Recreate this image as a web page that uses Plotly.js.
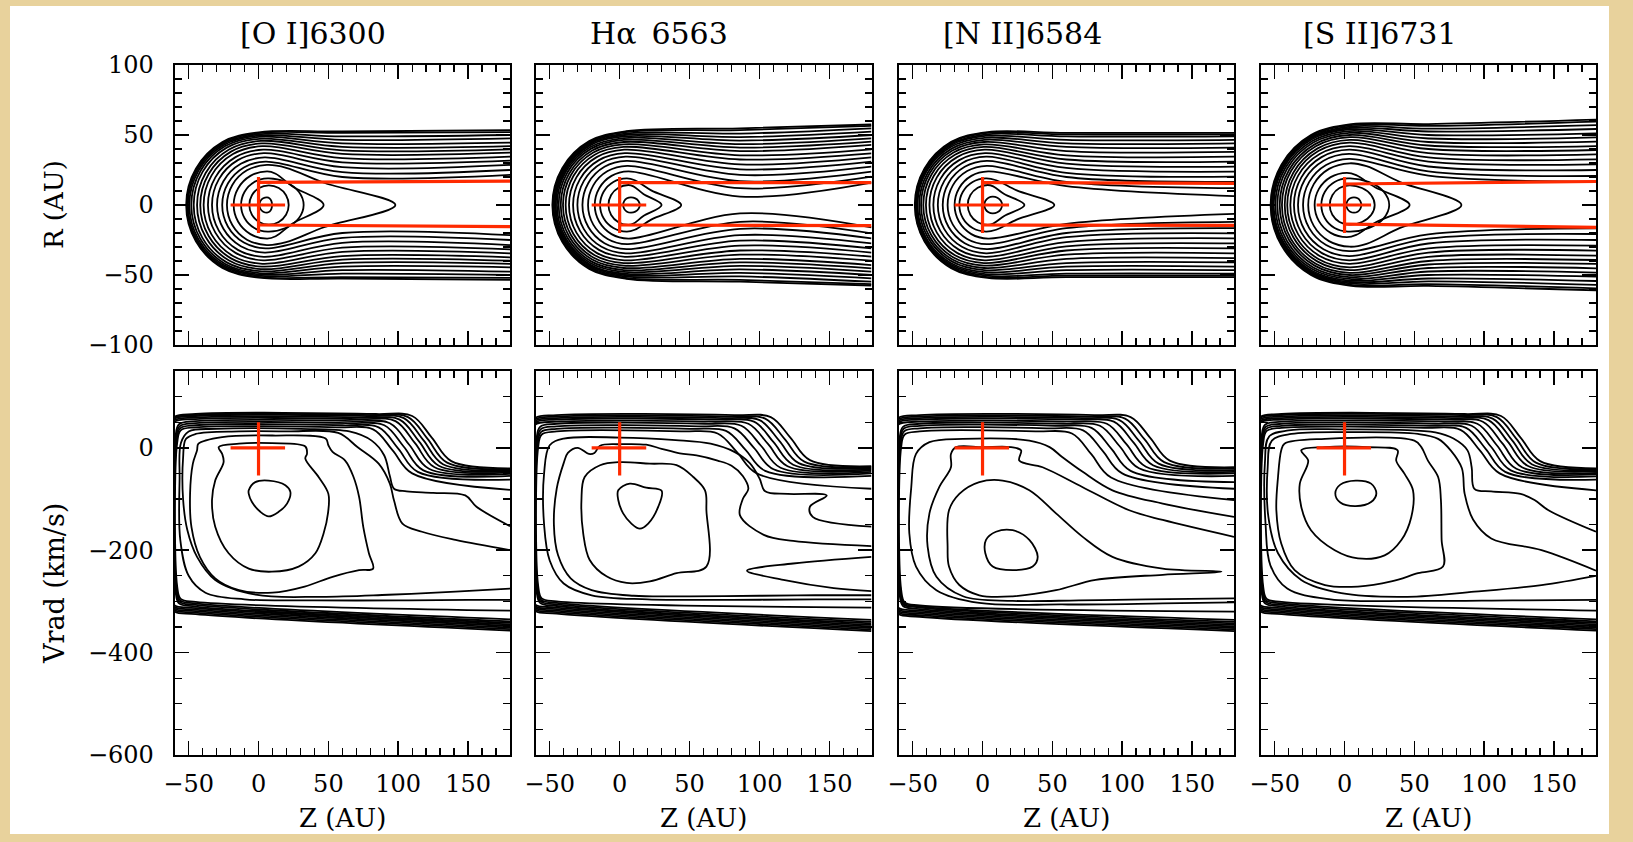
<!DOCTYPE html>
<html><head><meta charset="utf-8">
<script src="https://cdn.plot.ly/plotly-3.0.1.min.js"></script>
<style>html,body{margin:0;padding:0;background:#E8D29C;} #chart{width:1633px;height:842px;}</style>
</head><body><div id="chart"></div>
<script>
// ---------- labels ----------
const lineNames = ['[O I]6300', 'H\u03b1\u20026563', '[N II]6584', '[S II]6731'];
const zTickVals = [-50, 0, 50, 100, 150];

// ---------- TOP ROW: R vs Z contour families (AU) ----------
const oiClosedLeft = [0.6, -6.6, -12.5, -17.8, -22.6];
const oiClosedA    = [5.5, 14, 19, 24, 28.6];
const oiClosedTip  = [9.7, 21.6, 32.3, 46.6, 98];
const oiOpenLeft  = [-26, -29.7, -33.3, -36.2, -39.3, -41.7, -44, -46.4, -48.1, -49.5, -50.5, -51.2, -51.8];
const oiOpenA     = [31, 34, 37, 39.5, 42, 44, 45.8, 47.3, 48.6, 49.6, 50.5, 51.3, 51.9];
const oiOpenMid   = [20, 23.5, 27, 30.5, 33.5, 36.5, 39, 41.5, 44, 46.5, 49, 51.5, 52.5];
const oiOpenRight = [21.5, 25, 28.6, 31.7, 34.5, 37.4, 39.8, 42, 44.5, 47.6, 50, 52, 53.5];

const haClosedLeft = [2.5, -8, -14];
const haClosedA    = [5.5, 14.3, 19];
const haClosedTip  = [14.4, 30, 44];
const haOpenLeft  = [-17.8, -22.6, -26.6, -30.2, -33.3, -36.2, -38.6, -40.5, -42.1, -43.6, -44.8, -45.7, -46.4, -47.2, -47.6, -48.1];
const haOpenA     = [24, 28, 31.5, 34.5, 37, 39.5, 41.5, 43.3, 45, 46.5, 47.8, 49, 50, 51, 52, 52.7];
const haOpenMid   = [6, 12, 17, 21.5, 25.5, 29, 32.5, 35.5, 38.5, 41, 43.5, 46, 48.5, 51, 53.5, 54.8];
const haOpenRight = [16, 20.2, 23.8, 27.4, 31, 34, 36.9, 39.8, 42.9, 45.2, 47.6, 50, 52.4, 54.8, 56.5, 57.5];

const niiClosedLeft = [1.3, -10.6, -16.6];
const niiClosedA    = [6, 14.3, 19];
const niiClosedTip  = [14, 30, 51.4];
const niiOpenLeft  = [-20, -25, -28.5, -32, -35.2, -38, -40.5, -42.4, -44, -45.3, -46.5, -47.2, -47.6, -48.1, -48.5];
const niiOpenA     = [24, 28, 31.5, 34.5, 37, 39.5, 41.5, 43.3, 45, 46.5, 48, 49.3, 50.5, 51.5, 52.1];
const niiOpenMid   = [13.5, 16.5, 20, 23, 26.5, 29.5, 32.5, 35.5, 38.5, 41.5, 44, 46.5, 49, 50.5, 51.5];
const niiOpenRight = [6.4, 12, 16.5, 20.2, 23.8, 27.4, 31, 34.5, 38, 41, 44, 46.5, 49, 50.5, 51.5];

const siiClosedLeft = [1.3, -10.6, -16.6, -21.4, -26];
const siiClosedA    = [5.5, 14, 19, 23, 29.8];
const siiClosedTip  = [12, 21.6, 32, 46.6, 83.7];
const siiOpenLeft  = [-29.7, -33.3, -36.2, -38.8, -41, -42.8, -44.8, -46.4, -48.1, -49.5, -50.7, -51.4, -51.9, -52.4, -52.9];
const siiOpenA     = [33, 36.5, 39.5, 42, 44.5, 46.5, 48.5, 50, 51.5, 52.8, 54, 55, 56, 57, 57.7];
const siiOpenMid   = [21, 24, 27.5, 31, 34, 37, 40, 42.5, 45, 47.5, 50, 52.5, 54.5, 56.5, 57.8];
const siiOpenRight = [16.7, 20.7, 25, 29, 32.6, 36.2, 39.3, 42.1, 45.2, 48.3, 51.2, 54.3, 57, 59.5, 61];

const topMidZ = [60, 86, 60, 60];

// red jet-boundary lines (Z, R)
const oiJetUpper = [[0, 16.2], [180, 17]],   oiJetLower = [[0, -14.3], [180, -15.5]];
const haJetUpper = [[0, 16], [180, 16]],     haJetLower = [[0, -14.3], [180, -14.8]];
const niiJetUpper = [[0, 16], [180, 15.5]],  niiJetLower = [[0, -14.3], [180, -14.6]];
const siiJetUpper = [[0, 15], [180, 16.8]],  siiJetLower = [[0, -13.6], [180, -16]];
const crossTopZ = [-20, 19], crossTopR = [-20, 20];
const crossBotZ = [-20, 19], crossBotV = [-54, 50];

// ---------- BOTTOM ROW: Vrad vs Z ----------
const bandLeftZ = [-63, -63, -63, -63, -63, -59.4, -59, -58.6, -58.2];
const oiBandTop   = [66, 64, 62, 59, 56, 52, 48, 44, 40];
const oiBandDropZ = [124, 121, 118, 115, 112, 108, 104, 100, 96];
const oiBandEnd   = [-26, -29, -32, -35, -38, -41, -44, -47, -50];
const oiBandRight = [-40, -42, -44, -46, -48, -51, -55, -62, -82];
const oiBandBotL  = [-325, -322, -319, -316, -313, -310, -307, -304, -301];
const oiBandBotR  = [-357, -354, -351, -348, -345, -342, -339, -335, -318];

const haBandTop   = [64, 61, 58, 55, 51, 47, 42, 37, 32];
const haBandDropZ = [122, 118, 114, 110, 106, 101, 96, 90, 84];
const haBandEnd   = [-24, -27, -30, -33, -36, -39, -42, -45, -50];
const haBandRight = [-36, -38, -40, -42, -44, -47, -50, -55, -80];
const haBandBotL  = [-324, -321, -318, -315, -312, -309, -306, -303, -300];
const haBandBotR  = [-358, -355, -352, -349, -346, -343, -340, -336, -312];

const niiBandTop   = [64, 61, 58, 55, 51, 47, 43, 38, 32];
const niiBandDropZ = [120, 116, 112, 108, 103, 98, 92, 86, 78];
const niiBandEnd   = [-25, -28, -31, -34, -37, -40, -45, -50, -58];
const niiBandRight = [-38, -41, -44, -47, -50, -55, -67, -80, -102];
const niiBandBotL  = [-330, -327, -324, -321, -318, -315, -312, -310, -308];
const niiBandBotR  = [-358, -355, -352, -349, -346, -343, -340, -336, -320];

const siiBandTop   = [66, 64, 61, 58, 55, 51, 47, 43, 39];
const siiBandDropZ = [126, 123, 120, 117, 113, 109, 105, 101, 97];
const siiBandEnd   = [-26, -29, -32, -35, -38, -41, -44, -47, -50];
const siiBandRight = [-40, -42, -44, -46, -49, -52, -56, -62, -83];
const siiBandBotL  = [-325, -322, -319, -316, -313, -310, -307, -304, -301];
const siiBandBotR  = [-357, -354, -351, -348, -345, -342, -339, -335, -318];

// inner contours (Z, Vrad)
const oiBlob = [[-7,-83],[-2.3,-67],[7.3,-64],[19.2,-73],[22.8,-86],[20.4,-109],[14.4,-125],[7.3,-134],[1.3,-125],[-4.7,-106],[-7,-90],[-7,-83]];
const oiLoopB = [[-28.5,1.3],[-14,8],[9.6,9],[33.5,2.6],[34.7,-11.7],[33.5,-21],[43,-57],[50,-90],[49.7,-128],[46.6,-167],[40.7,-206],[28.7,-232],[9.6,-242],[-7,-236],[-21.4,-206],[-31,-154],[-33.3,-102],[-31,-64],[-25,-28],[-26,-12],[-28.5,1.3]];
const oiLoopC = [[-44,-5],[-43,8],[-26,21],[10,24],[48,18],[50,5],[53,-8],[62,-25],[68,-57],[72,-96],[75,-155],[79,-206],[82,-236],[72,-239],[53,-252],[33,-271],[10,-283],[-14,-278],[-31,-255],[-42,-213],[-48,-155],[-49,-90],[-47,-31],[-44,-5]];
const oiOpenD = [[180,-200],[141,-180],[117,-164],[103,-148],[97,-103],[94,-70],[86,-31],[71,1],[57,29],[20,32],[-14,32],[-45,27],[-52,17],[-54,-20],[-54,-100],[-51,-160],[-44,-213],[-31,-258],[-2,-287],[45,-291],[93,-287],[141,-281],[180,-275]];
const oiOpenE = [[180,-153],[156,-115],[148,-93],[125,-88],[106,-85],[97,-80],[94,-55],[90,-15],[81,14],[65,32],[30,37],[-30,37],[-50,32],[-55.5,10],[-56.5,-60],[-56,-180],[-50,-250],[-38,-283],[-10,-296],[40,-298],[100,-298],[150,-297],[180,-297]];

const haBlob = [[-1,-83],[7.3,-70],[19,-78],[30,-84],[27.6,-115],[20.4,-148],[14.4,-158],[8.4,-148],[2.5,-128],[-1,-102],[-1,-83]];
const haLoopB = [[-25,-57],[-14,-34],[0,-28],[21.6,-31],[40.7,-34],[52.6,-57],[61,-83],[62,-122],[62,-232],[40.7,-245],[21.6,-261],[5,-264],[-9.4,-251],[-21.4,-219],[-26,-168],[-27.3,-102],[-25,-57]];
const haSliver = [[180,-213],[124,-226],[91,-240],[117,-258],[153,-274],[180,-280]];
const haOpenC = [[180,-192],[124,-182],[103,-170],[86,-132],[88,-100],[92,-80],[88,-55],[80,-35],[70,-25],[55,-15],[43,-11],[30,-2],[19,6],[0,7],[-14,4],[-18,-10],[-22,-12],[-30,0],[-37,-10],[-40,-30],[-45,-80],[-47,-150],[-44,-210],[-35,-255],[-20,-278],[10,-289],[50,-290],[100,-289],[140,-288],[180,-288]];
const haOpenD = [[180,-154],[138,-135],[136,-115],[148,-93],[120,-90],[104,-85],[100,-60],[93,-30],[82,-8],[65,8],[40,15],[0,20],[-40,18],[-50,5],[-54,-50],[-54,-150],[-50,-220],[-40,-265],[-20,-288],[20,-296],[80,-297],[140,-296],[180,-296]];

const niiBlob = [[2.5,-180],[9.6,-164],[21.6,-161],[33.5,-180],[39.5,-213],[35.9,-232],[21.6,-239],[7.3,-232],[2,-206],[2.5,-180]];
const niiLoopB = [[-25,-193],[-24,-122],[-16.6,-90],[-2.3,-67],[14.4,-64],[33.5,-83],[52.6,-128],[71.7,-174],[93,-213],[129,-236],[171,-242],[129,-248],[81,-258],[52.6,-278],[21.6,-290],[-2.3,-288],[-16.6,-268],[-24,-232],[-25,-193]];
const niiOpenC = [[180,-174],[129,-141],[105,-122],[71.7,-77],[43,-38],[26.3,-25],[27.6,-5],[20.4,1.3],[0,1.3],[-19,1.3],[-22.6,-12],[-22.6,-38],[-31,-77],[-38,-128],[-39.3,-193],[-33,-252],[-14,-290],[21.6,-299],[69,-298],[117,-296],[180,-294]];
const niiOpenD = [[180,-135],[129,-109],[93,-83],[71.7,-47],[57,-18],[48,1.3],[33.5,14],[-14,17.5],[-38,11],[-47.6,-12],[-51,-77],[-52.4,-167],[-47.6,-232],[-33,-278],[-2.3,-303],[57,-306],[129,-304],[180,-302]];

const siiBlob = [[-6.6,-89],[-3,-72],[8,-64],[19,-70],[22.8,-89],[19,-106],[8,-114],[-3,-107],[-6.6,-89]];
const siiLoopB = [[-31,-5],[-14,1.3],[16.8,1.3],[38,-5],[37,-25],[43,-51],[49,-83],[47.8,-135],[40.7,-180],[28.7,-210],[9.6,-216],[-7,-200],[-24,-161],[-31,-115],[-32,-70],[-26,-25],[-31,-5]];
const siiLoopC = [[-45.3,-5],[-43,8],[-14,17.5],[50,14],[55,1.3],[59.7,-25],[67,-57],[69,-102],[69.5,-180],[70.5,-232],[52.6,-245],[33.5,-261],[9.6,-271],[-14,-268],[-35.7,-239],[-45.3,-187],[-48.8,-122],[-47.6,-57],[-45.3,-5]];
const siiOpenD = [[180,-240],[141,-200],[105,-177],[92,-140],[86,-90],[84,-40],[76,-5],[67,17.5],[52.6,27],[9.6,30.5],[-38,27],[-52,14],[-55,-38],[-54.5,-135],[-47.6,-206],[-31,-258],[-2.3,-284],[45,-291],[93,-281],[141,-268],[180,-250]];
const siiOpenE = [[180,-164],[146,-122],[136,-102],[126,-90],[105,-85],[93,-80],[91,-38],[88,-5],[78,18],[65,30],[40,35],[0,36],[-40,34],[-54,22],[-57,-30],[-56.5,-150],[-53,-230],[-41,-275],[-10,-296],[50,-299],[120,-298],[180,-297]];

// ---------- assemble ----------
const topPanels = [
  {cl: oiClosedLeft, ca: oiClosedA, ct: oiClosedTip, ol: oiOpenLeft, oa: oiOpenA, om: oiOpenMid, ob: oiOpenRight, ju: oiJetUpper, jl: oiJetLower},
  {cl: haClosedLeft, ca: haClosedA, ct: haClosedTip, ol: haOpenLeft, oa: haOpenA, om: haOpenMid, ob: haOpenRight, ju: haJetUpper, jl: haJetLower},
  {cl: niiClosedLeft, ca: niiClosedA, ct: niiClosedTip, ol: niiOpenLeft, oa: niiOpenA, om: niiOpenMid, ob: niiOpenRight, ju: niiJetUpper, jl: niiJetLower},
  {cl: siiClosedLeft, ca: siiClosedA, ct: siiClosedTip, ol: siiOpenLeft, oa: siiOpenA, om: siiOpenMid, ob: siiOpenRight, ju: siiJetUpper, jl: siiJetLower}
];
const botPanels = [
  {bt: oiBandTop, bd: oiBandDropZ, be: oiBandEnd, br: oiBandRight, bl: oiBandBotL, bb: oiBandBotR, inner: [oiBlob, oiLoopB, oiLoopC, oiOpenD, oiOpenE]},
  {bt: haBandTop, bd: haBandDropZ, be: haBandEnd, br: haBandRight, bl: haBandBotL, bb: haBandBotR, inner: [haBlob, haLoopB, haSliver, haOpenC, haOpenD]},
  {bt: niiBandTop, bd: niiBandDropZ, be: niiBandEnd, br: niiBandRight, bl: niiBandBotL, bb: niiBandBotR, inner: [niiBlob, niiLoopB, niiOpenC, niiOpenD]},
  {bt: siiBandTop, bd: siiBandDropZ, be: siiBandEnd, br: siiBandRight, bl: siiBandBotL, bb: siiBandBotR, inner: [siiBlob, siiLoopB, siiLoopC, siiOpenD, siiOpenE]}
];

const traces = [];
const BLACK = '#000000', RED = '#ff2a00';
function axId(n) { return n === 1 ? '' : String(n); }
function addLine(xs, ys, n, color, width, spline) {
  traces.push({type: 'scatter', mode: 'lines', x: xs, y: ys,
    xaxis: 'x' + axId(n), yaxis: 'y' + axId(n),
    line: {color: color, width: width, shape: spline ? 'spline' : 'linear', smoothing: 1},
    hoverinfo: 'skip', showlegend: false, cliponaxis: true});
}
function addPts(pts, n, color, width, spline) {
  addLine(pts.map(p => p[0]), pts.map(p => p[1]), n, color, width, spline);
}
function arc(zc, a, xs, ys) {
  for (let d = 120; d <= 240; d += 30) {
    const t = d * Math.PI / 180;
    xs.push(zc + a * Math.cos(t)); ys.push(a * Math.sin(t));
  }
}
function openHairpin(left, a, m, b, zMid) {
  const zc = left + a;
  const xs = [180, zMid, zc], ys = [b, m, a];
  arc(zc, a, xs, ys);
  xs.push(zc, zMid, 180); ys.push(-a, -m, -b);
  return [xs, ys];
}
function closedLoop(left, a, tip) {
  const zc = left + a, L = tip - zc;
  let up;
  if (L <= 1.6 * a) {
    up = [[tip, 0], [zc + L * Math.cos(Math.PI / 6), a * 0.5], [zc + L * 0.5, a * Math.sin(Math.PI / 3)]];
  } else {
    up = [[tip, 0], [zc + 0.45 * L, 0.55 * a], [zc + 0.15 * L, 0.93 * a]];
  }
  const xs = up.map(p => p[0]), ys = up.map(p => p[1]);
  xs.push(zc); ys.push(a);
  arc(zc, a, xs, ys);
  xs.push(zc); ys.push(-a);
  for (let i = up.length - 1; i >= 0; i--) { xs.push(up[i][0]); ys.push(-up[i][1]); }
  return [xs, ys];
}
function bandLine(vT, dz, vE, vR, vBL, vBR, zl) {
  return [[180, vR], [dz + 14, vE], [dz, (vT + vE) / 2], [dz - 14, vT - 4], [dz - 40, vT],
    [-45, vT], [zl + 2.5, vT - 6], [zl, vT - 30], [zl, vBL + 30], [zl + 2.5, vBL + 6], [-45, vBL], [180, vBR]];
}

topPanels.forEach((p, i) => {
  const n = i + 1;
  p.cl.forEach((l, k) => { const r = closedLoop(l, p.ca[k], p.ct[k]); addLine(r[0], r[1], n, BLACK, 1.8, true); });
  p.ol.forEach((l, k) => { const r = openHairpin(l, p.oa[k], p.om[k], p.ob[k], topMidZ[i]); addLine(r[0], r[1], n, BLACK, 1.8, true); });
  addPts(p.ju, n, RED, 3.2, false);
  addPts(p.jl, n, RED, 3.2, false);
  addLine([0, 0], crossTopR, n, RED, 3.2, false);
  addLine(crossTopZ, [0, 0], n, RED, 3.2, false);
});
botPanels.forEach((p, i) => {
  const n = i + 5;
  p.bt.forEach((v, k) => addPts(bandLine(v, p.bd[k], p.be[k], p.br[k], p.bl[k], p.bb[k], bandLeftZ[k]), n, BLACK, 1.8, true));
  p.inner.forEach(c => addPts(c, n, BLACK, 1.8, true));
  addLine([0, 0], crossBotV, n, RED, 3.2, false);
  addLine(crossBotZ, [0, 0], n, RED, 3.2, false);
});

// ---------- layout ----------
const W = 1633, H = 842;
const colPx = [[174.7, 510], [535.7, 871.5], [898.7, 1234], [1260.7, 1596]];
const titlePx = [313, 659, 1022, 1380];
const rowPx = {top: [65, 345], bot: [371, 755]};
const FONT = 'DejaVu Serif';
const layout = {width: W, height: H, autosize: false, margin: {l: 0, r: 0, t: 0, b: 0},
  paper_bgcolor: '#E8D29C', plot_bgcolor: '#ffffff', showlegend: false,
  font: {family: FONT, color: '#000'}, annotations: [], shapes: [
    {type: 'rect', xref: 'paper', yref: 'paper', x0: 10 / W, x1: 1609 / W, y0: 1 - 834 / H, y1: 1 - 6 / H,
     fillcolor: '#ffffff', line: {width: 0}, layer: 'below'}]};

function commonAxis() {
  return {ticks: 'inside', ticklen: 14, tickwidth: 1.6, tickcolor: '#000', showline: true, linecolor: '#000',
    linewidth: 2, mirror: 'allticks', showgrid: false, zeroline: false, fixedrange: true,
    tickfont: {family: FONT, size: 24, color: '#000'}};
}
for (let i = 0; i < 4; i++) {
  for (let row = 0; row < 2; row++) {
    const n = i + 1 + row * 4;
    const rp = row === 0 ? rowPx.top : rowPx.bot;
    const xa = Object.assign(commonAxis(), {
      domain: [colPx[i][0] / W, colPx[i][1] / W], range: [-60, 180], anchor: 'y' + axId(n),
      tickmode: 'array', tickvals: zTickVals, ticktext: zTickVals.map(v => v < 0 ? '\u2212' + Math.abs(v) : String(v)),
      minor: {tickmode: 'linear', tick0: 0, dtick: 10, ticks: 'inside', ticklen: 7, tickwidth: 1.4, tickcolor: '#000'},
      showticklabels: row === 1, ticklabelstandoff: 6});
    const ya = Object.assign(commonAxis(), {
      domain: [1 - rp[1] / H, 1 - rp[0] / H], anchor: 'x' + axId(n),
      range: row === 0 ? [-100, 100] : [-600, 150], tickmode: 'linear', tick0: 0, dtick: row === 0 ? 50 : 200,
      minor: {tickmode: 'linear', tick0: 0, dtick: row === 0 ? 10 : 50, ticks: 'inside', ticklen: 7, tickwidth: 1.4, tickcolor: '#000'},
      showticklabels: i === 0, ticklabelstandoff: 14});
    layout['xaxis' + axId(n)] = xa;
    layout['yaxis' + axId(n)] = ya;
  }
  const cx = (colPx[i][0] + colPx[i][1]) / 2 / W;
  layout.annotations.push({text: lineNames[i], xref: 'paper', yref: 'paper', x: titlePx[i] / W, y: 1 - 33 / H,
    xanchor: 'center', yanchor: 'middle', showarrow: false, font: {family: FONT, size: 30, color: '#000'}});
  layout.annotations.push({text: 'Z (AU)', xref: 'paper', yref: 'paper', x: cx, y: 1 - 818 / H,
    xanchor: 'center', yanchor: 'middle', showarrow: false, font: {family: FONT, size: 26, color: '#000'}});
}
layout.annotations.push({text: 'R (AU)', xref: 'paper', yref: 'paper', x: 54 / W, y: 1 - 205 / H, textangle: -90,
  xanchor: 'center', yanchor: 'middle', showarrow: false, font: {family: FONT, size: 26, color: '#000'}});
layout.annotations.push({text: 'Vrad (km/s)', xref: 'paper', yref: 'paper', x: 54 / W, y: 1 - 584 / H, textangle: -90,
  xanchor: 'center', yanchor: 'middle', showarrow: false, font: {family: FONT, size: 27, color: '#000'}});

Plotly.newPlot('chart', traces, layout, {displayModeBar: false, staticPlot: true});
</script></body></html>
